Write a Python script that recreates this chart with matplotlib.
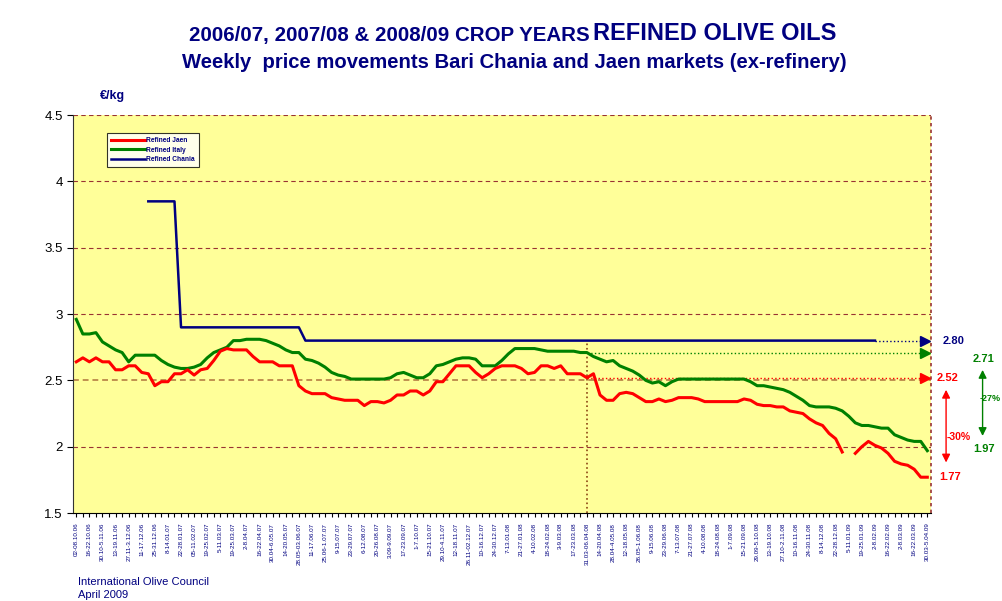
import numpy as np
import matplotlib.pyplot as plt

# fortnightly tick labels (weekly data, label every 2nd week)
tick_labels = [
    "02-08.10.06", "16-22.10.06", "30.10-5.11.06", "13-19.11.06", "27.11-3.12.06",
    "11-17.12.06", "25-31.12.06", "8-14.01.07", "22-28.01.07", "05-11.02.07",
    "19-25.02.07", "5-11.03.07", "19-25.03.07", "2-8.04.07", "16-22.04.07",
    "30.04-6.05.07", "14-20.05.07", "28.05-03.06.07", "11-17.06.07", "25.06-1.07.07",
    "9-15.07.07", "23-29.07.07", "6-12.08.07", "20-26.08.07", "3.09-9.09.07",
    "17-23.09.07", "1-7.10.07", "15-21.10.07", "29.10-4.11.07", "12-18.11.07",
    "26.11-02.12.07", "10-16.12.07", "24-30.12.07", "7-13.01.08", "21-27.01.08",
    "4-10.02.08", "18-24.02.08", "3-9.03.08", "17-23.03.08", "31.03-06.04.08",
    "14-20.04.08", "28.04-4.05.08", "12-18.05.08", "26.05-1.06.08", "9-15.06.08",
    "23-29.06.08", "7-13.07.08", "21-27.07.08", "4-10.08.08", "18-24.08.08",
    "1-7.09.08", "15-21.09.08", "29.09-5.10.08", "13-19.10.08", "27.10-2.11.08",
    "10-16.11.08", "24-30.11.08", "8-14.12.08", "22-28.12.08", "5-11.01.09",
    "19-25.01.09", "2-8.02.09", "16-22.02.09", "2-8.03.09", "16-22.03.09",
    "30.03-5.04.09",
]

jaen = [
    2.64, 2.67, 2.64, 2.67, 2.64, 2.64, 2.58, 2.58, 2.61, 2.61,
    2.56, 2.55, 2.46, 2.49, 2.49, 2.55, 2.55, 2.58, 2.54, 2.58,
    2.59, 2.65, 2.72, 2.74, 2.73, 2.73, 2.73, 2.68, 2.64, 2.64,
    2.64, 2.61, 2.61, 2.61, 2.46, 2.42, 2.40, 2.40, 2.40, 2.37,
    2.36, 2.35, 2.35, 2.35, 2.31, 2.34, 2.34, 2.33, 2.35, 2.39,
    2.39, 2.42, 2.42, 2.39, 2.42, 2.49, 2.49, 2.55, 2.61, 2.61,
    2.61, 2.56, 2.52, 2.55, 2.59, 2.61, 2.61, 2.61, 2.59, 2.55,
    2.56, 2.61, 2.61, 2.59, 2.61, 2.55, 2.55, 2.55, 2.52, 2.55,
    2.39, 2.35, 2.35, 2.40, 2.41, 2.40, 2.37, 2.34, 2.34, 2.36,
    2.34, 2.35, 2.37, 2.37, 2.37, 2.36, 2.34, 2.34, 2.34, 2.34,
    2.34, 2.34, 2.36, 2.35, 2.32, 2.31, 2.31, 2.30, 2.30, 2.27,
    2.26, 2.25, 2.21, 2.18, 2.16, 2.10, 2.06, 1.96, np.nan, 1.95,
    2.00, 2.04, 2.01, 1.99, 1.95, 1.89, 1.87, 1.86, 1.83, 1.77,
    1.77,
]

italy = [
    2.96, 2.85, 2.85, 2.86, 2.79, 2.76, 2.73, 2.71, 2.64, 2.69,
    2.69, 2.69, 2.69, 2.65, 2.62, 2.60, 2.59, 2.59, 2.60, 2.62,
    2.67, 2.71, 2.73, 2.75, 2.80, 2.80, 2.81, 2.81, 2.81, 2.80,
    2.78, 2.76, 2.73, 2.71, 2.71, 2.66, 2.65, 2.63, 2.60, 2.56,
    2.54, 2.53, 2.51, 2.51, 2.51, 2.51, 2.51, 2.51, 2.52, 2.55,
    2.56, 2.54, 2.52, 2.52, 2.55, 2.61, 2.62, 2.64, 2.66, 2.67,
    2.67, 2.66, 2.61, 2.61, 2.61, 2.65, 2.70, 2.74, 2.74, 2.74,
    2.74, 2.73, 2.72, 2.72, 2.72, 2.72, 2.72, 2.71, 2.71, 2.68,
    2.66, 2.64, 2.65, 2.61, 2.59, 2.57, 2.54, 2.50, 2.48, 2.49,
    2.46, 2.49, 2.51, 2.51, 2.51, 2.51, 2.51, 2.51, 2.51, 2.51,
    2.51, 2.51, 2.51, 2.49, 2.46, 2.46, 2.45, 2.44, 2.43, 2.41,
    2.38, 2.35, 2.31, 2.30, 2.30, 2.30, 2.29, 2.27, 2.23, 2.18,
    2.16, 2.16, 2.15, 2.14, 2.14, 2.09, 2.07, 2.05, 2.04, 2.04,
    1.97,
]

chania = ([np.nan] * 11 + [3.85] * 5 + [2.90] * 19 + [2.80] * 88
          + [np.nan] * 8)

NAVY = '#000080'
GREEN = '#008000'
RED = '#ff0000'

weeks = np.arange(len(jaen))

fig = plt.figure(figsize=(10.03, 6.01), dpi=100)
plt.rcParams['font.family'] = ['Liberation Sans', 'DejaVu Sans']
ax = fig.add_axes([0.0728, 0.1464, 0.855, 0.662])
ax.set_facecolor('#ffff99')

# gridlines
for g in [2, 3, 3.5, 4, 4.5]:
    ax.axhline(g, color='#993333', ls=(0, (4, 3)), lw=0.8, zorder=1)
ax.axhline(2.5, color='#c09050', ls=(0, (3, 2)), lw=1.4, zorder=1)

ax.plot(weeks, jaen, color=RED, lw=2.2, label='Refined Jaen', zorder=4)
ax.plot(weeks, italy, color=GREEN, lw=2.2, label='Refined Italy', zorder=3)
ax.plot(weeks, chania, color=NAVY, lw=1.8, label='Refined Chania', zorder=5)

# reference lines from 31.03-06.04.08
ref = 78
ax.plot([ref, ref], [1.5, 2.78], color='#8b4513', ls=':', lw=1.2, zorder=2)
ax.plot([ref, 129.6], [italy[ref]] * 2, color=GREEN, ls=':', lw=1, zorder=2)
ax.plot([ref, 129.6], [jaen[ref]] * 2, color=RED, ls=':', lw=1, zorder=2)
last_ch = 122
ax.plot([last_ch, 129.6], [chania[last_ch]] * 2, color=NAVY, ls=':', lw=1, zorder=2)
for val, c in [(chania[last_ch], NAVY), (italy[ref], GREEN), (jaen[ref], RED)]:
    ax.plot([129.6], [val], marker='>', color=c, ms=7, clip_on=False, zorder=6)

ax.set_xlim(-0.5, 130.5)
ax.set_ylim(1.5, 4.5)
ax.set_yticks([1.5, 2, 2.5, 3, 3.5, 4, 4.5])
ax.set_yticklabels(['1.5', '2', '2.5', '3', '3.5', '4', '4.5'], fontsize=9.5)
ax.set_xticks(np.arange(0, len(jaen), 2))
ax.set_xticklabels(tick_labels, rotation=90, fontsize=4.5, color=NAVY)
ax.set_xticks(weeks, minor=True)
ax.tick_params(axis='x', which='both', length=3, width=0.8, pad=4)
ax.tick_params(axis='y', length=4, width=0.8)

for s in ['top', 'right']:
    ax.spines[s].set_visible(False)
ax.spines['left'].set_color('#333333')
ax.spines['bottom'].set_color('black')
ax.axvline(130.5, color='#993333', ls=(0, (2, 2)), lw=1.2, clip_on=False)

leg = ax.legend(loc='upper left', bbox_to_anchor=(0.04, 0.955),
                frameon=True, fancybox=False, edgecolor='black',
                handlelength=5, handletextpad=0.2, borderpad=0.6,
                borderaxespad=0, labelspacing=0.4,
                prop={'size': 4.8, 'weight': 'bold'})
leg.get_frame().set_linewidth(0.8)
for t in leg.get_texts():
    t.set_color(NAVY)

# right-hand annotations (x in axes fraction, y in data)
tr = ax.get_yaxis_transform()
def ax_x(px):
    return (px - 73) / 857.5

ax.text(ax_x(943), 2.80, '2.80', transform=tr, color=NAVY, fontsize=8,
        fontweight='bold', va='center')
ax.text(ax_x(937), 2.52, '2.52', transform=tr, color=RED, fontsize=8,
        fontweight='bold', va='center')
ax.text(ax_x(939), 1.77, '1.77', transform=tr, color=RED, fontsize=8,
        fontweight='bold', va='center')
ax.text(ax_x(973), 2.66, '2.71', transform=tr, color=GREEN, fontsize=8,
        fontweight='bold', va='center')
ax.text(ax_x(973), 1.98, '1.97', transform=tr, color=GREEN, fontsize=8,
        fontweight='bold', va='center')
ax.text(ax_x(980), 2.36, '-27%', transform=tr, color=GREEN, fontsize=6.5,
        fontweight='bold', va='center')
ax.text(ax_x(947), 2.07, '-30%', transform=tr, color=RED, fontsize=7.5,
        fontweight='bold', va='center')
ax.annotate('', xy=(ax_x(982.5), 2.60), xytext=(ax_x(982.5), 2.06),
            xycoords=tr, textcoords=tr,
            arrowprops=dict(arrowstyle='<|-|>', color=GREEN, lw=1,
                            mutation_scale=12))
ax.annotate('', xy=(ax_x(946), 2.45), xytext=(ax_x(946), 1.86),
            xycoords=tr, textcoords=tr,
            arrowprops=dict(arrowstyle='<|-|>', color=RED, lw=1,
                            mutation_scale=12))

# titles
fig.text(0.588, 1 - 35 / 601, '2006/07, 2007/08 & 2008/09 CROP YEARS',
         ha='right', va='center', color=NAVY, fontsize=14.8, fontweight='bold')
fig.text(0.591, 1 - 34 / 601, 'REFINED OLIVE OILS', ha='left', va='center',
         color=NAVY, fontsize=17, fontweight='bold')
fig.text(0.513, 1 - 62 / 601,
         'Weekly  price movements Bari Chania and Jaen markets (ex-refinery)',
         ha='center', va='center', color=NAVY, fontsize=14.6, fontweight='bold')
fig.text(100 / 1003, 1 - 96 / 601, '€/kg', ha='left', va='center', color=NAVY,
         fontsize=9, fontweight='bold')
fig.text(78 / 1003, 1 - 582 / 601, 'International Olive Council', ha='left',
         va='center', color=NAVY, fontsize=8)
fig.text(78 / 1003, 1 - 595 / 601, 'April 2009', ha='left', va='center',
         color=NAVY, fontsize=8)

fig.savefig('out.png', dpi=100, facecolor='white')
